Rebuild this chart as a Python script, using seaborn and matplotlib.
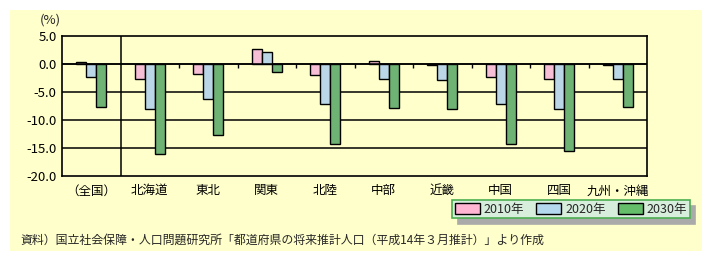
import matplotlib
matplotlib.use("Agg")
import matplotlib.pyplot as plt
import seaborn as sns
import pandas as pd
from matplotlib.patches import Rectangle, Patch

sns.set_theme(style="white")
plt.rcParams['font.family'] = ['Noto Sans CJK JP', 'DejaVu Sans']

categories = ["（全国）", "北海道", "東北", "関東", "北陸", "中部", "近畿", "中国", "四国", "九州・沖縄"]
series_names = ["2010年", "2020年", "2030年"]
v2010 = [0.3, -2.6, -1.8, 2.6, -2.0, 0.5, -0.1, -2.4, -2.7, -0.2]
v2020 = [-2.4, -8.1, -6.3, 2.1, -7.2, -2.6, -2.9, -7.2, -8.1, -2.7]
v2030 = [-7.6, -16.1, -12.7, -1.5, -14.2, -7.9, -8.1, -14.3, -15.6, -7.6]
yticks = [5.0, 0.0, -5.0, -10.0, -15.0, -20.0]
ytick_labels = ["5.0", "0.0", "-5.0", "-10.0", "-15.0", "-20.0"]
colors = ["#FFB6D3", "#B4D8EE", "#64BE6A"]
source = "資料）国立社会保障・人口問題研究所「都道府県の将来推計人口（平成14年３月推計）」より作成"

df = pd.DataFrame({
    "region": categories * 3,
    "year": [series_names[0]] * 10 + [series_names[1]] * 10 + [series_names[2]] * 10,
    "value": v2010 + v2020 + v2030,
})

W, H = 712, 261
fig = plt.figure(figsize=(W / 100, H / 100), dpi=100)
fig.patch.set_facecolor("white")
bg = "#FFFFCC"
fig.patches.append(Rectangle((10 / W, 1 - 251 / H), 692 / W, 241 / H,
                             transform=fig.transFigure, facecolor=bg,
                             edgecolor="none", zorder=-5))

ax = fig.add_axes([62 / W, 1 - 176 / H, 585 / W, 140 / H])
ax.set_zorder(2)
ax.set_facecolor(bg)
sns.barplot(data=df, x="region", y="value", hue="year", order=categories,
            hue_order=series_names, palette=colors, width=0.52,
            edgecolor="black", linewidth=1.0, ax=ax, legend=False, zorder=3)

ax.set_ylim(-20, 5)
ax.set_xlim(-0.5, len(categories) - 0.5)
ax.set_yticks(yticks)
ax.set_yticklabels(ytick_labels)
ax.tick_params(axis="y", length=0, labelsize=9.5, colors="black", pad=4)
ax.tick_params(axis="x", length=0, labelsize=9, colors="black", pad=6)
ax.set_xlabel("")
ax.set_ylabel("")
for s in ax.spines.values():
    s.set_color("black")
    s.set_linewidth(1.2)
for y in yticks[1:-1]:
    ax.axhline(y, color="black", linewidth=1.1, zorder=1)
ax.axhline(0, color="black", linewidth=1.1, zorder=4)
ax.axvline(0.5, color="black", linewidth=1.1, zorder=1)
ax.vlines([i + 0.5 for i in range(1, len(categories) - 1)], -0.7, 0,
          color="black", linewidth=1.0, zorder=4)

fig.text(40 / W, 1 - 20 / H, "(%)", fontsize=9.5, va="center", ha="left")
fig.text(20 / W, 1 - 240 / H, source, fontsize=8.6, va="center", ha="left")

handles = [Patch(facecolor=c, edgecolor="black", linewidth=1.0) for c in colors]
leg = fig.legend(handles, series_names, loc="center",
                 bbox_to_anchor=(571 / W, 1 - 209 / H), ncol=3, fontsize=9,
                 frameon=True, fancybox=False,
                 shadow={"color": "#AAAAAA", "alpha": 1, "ox": 4, "oy": -4},
                 handlelength=2.0, handleheight=1.0, handletextpad=0.3,
                 columnspacing=1.0, borderpad=0.2, borderaxespad=0)
leg.get_frame().set_facecolor("#D8EEDD")
leg.get_frame().set_edgecolor("#4CAF50")
leg.get_frame().set_linewidth(1.2)

fig.savefig("out.png", dpi=100)
